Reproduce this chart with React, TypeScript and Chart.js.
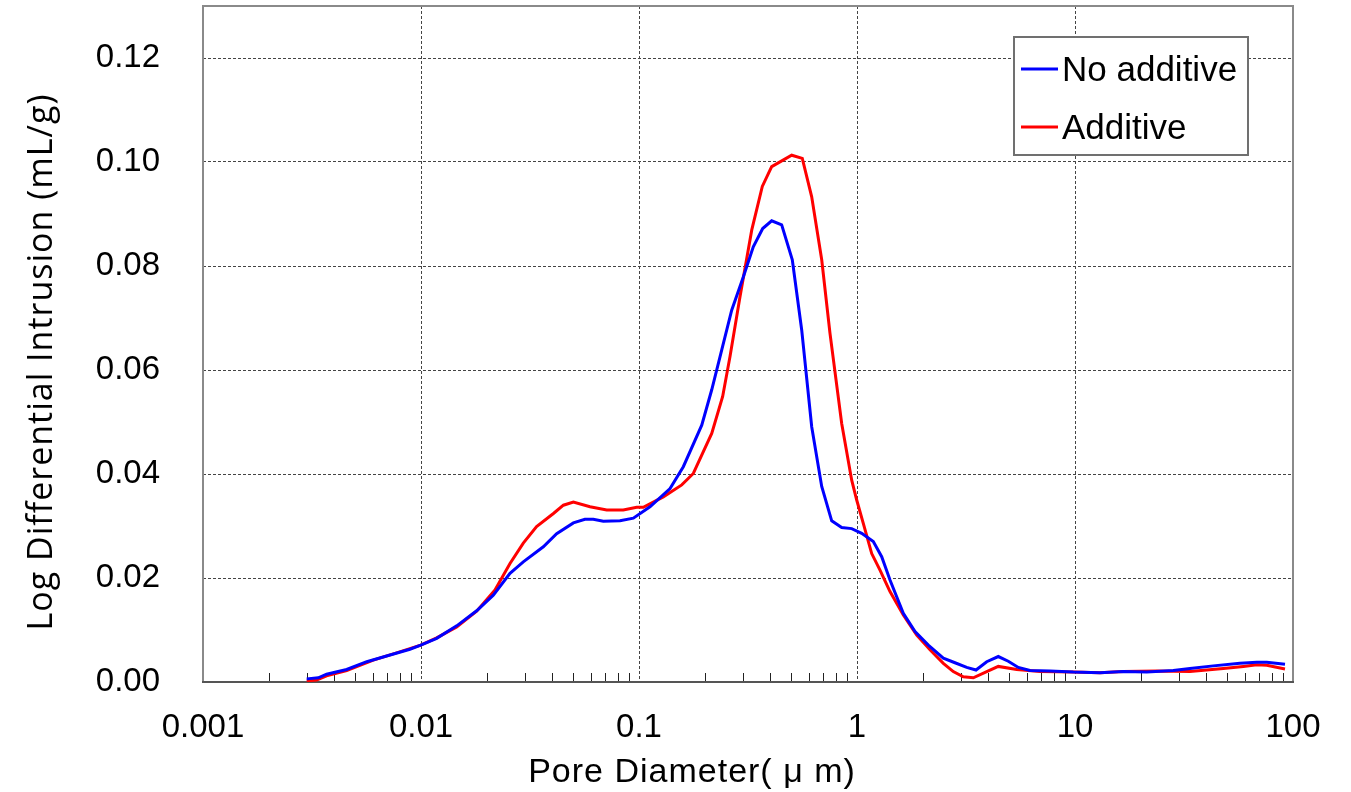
import React, { useEffect, useRef } from "react";
import { Chart, registerables } from "chart.js";

Chart.register(...registerables);

const xTickValues = [0.001, 0.01, 0.1, 1, 10, 100];
const xTickLabels = ["0.001", "0.01", "0.1", "1", "10", "100"];
const yTickValues = [0, 0.02, 0.04, 0.06, 0.08, 0.1, 0.12];

const seriesNames = ["No additive", "Additive"];
const seriesColors = ["#0000ff", "#ff0000"];

const noAdditiveDiam = [
  0.00299, 0.00338, 0.00369, 0.00456, 0.00564, 0.00721, 0.0089, 0.00997, 0.0118, 0.01458,
  0.018, 0.02146, 0.0256, 0.02946, 0.0364, 0.0419, 0.05, 0.0565, 0.0617, 0.0686,
  0.0818, 0.0942, 0.1123, 0.1388, 0.1597, 0.194, 0.2156, 0.2395, 0.2662, 0.3009,
  0.3344, 0.3693, 0.4061, 0.4513, 0.5049, 0.5576, 0.6197, 0.6889, 0.7655, 0.8507,
  0.9456, 1.0509, 1.188, 1.298, 1.417, 1.631, 1.846, 2.124, 2.489, 2.815,
  3.186, 3.515, 3.936, 4.448, 4.943, 5.494, 6.218, 7.68, 9.82, 13.02,
  16.66, 21.33, 28.24, 33.69, 43.1, 57.1, 68.2, 75.8, 91.9,
];
const noAdditiveVal = [
  0.0006, 0.0008, 0.0015, 0.0024, 0.0039, 0.0052, 0.0063, 0.0071, 0.0084, 0.0108,
  0.0137, 0.0167, 0.0209, 0.0231, 0.026, 0.0285, 0.0306, 0.0313, 0.0313, 0.0309,
  0.031, 0.0315, 0.0337, 0.0372, 0.0414, 0.0494, 0.0562, 0.0638, 0.0715, 0.0779,
  0.0837, 0.0872, 0.0887, 0.0879, 0.0812, 0.0677, 0.0491, 0.0376, 0.031, 0.0297,
  0.0295, 0.0286, 0.027, 0.0241, 0.0196, 0.0132, 0.0097, 0.0071, 0.0046, 0.0037,
  0.0028, 0.0023, 0.0039, 0.0049, 0.004, 0.0028, 0.0022, 0.0021, 0.0019, 0.0018,
  0.002, 0.0019, 0.0022, 0.0026, 0.0031, 0.0036, 0.0038, 0.0038, 0.0034,
];

const additiveDiam = [
  0.00299, 0.00332, 0.00369, 0.00456, 0.00604, 0.00773, 0.00997, 0.0118, 0.01458, 0.018,
  0.02185, 0.0256, 0.02946, 0.0339, 0.0405, 0.045, 0.05, 0.0596, 0.0711, 0.0847,
  0.0976, 0.1046, 0.1293, 0.1571, 0.1775, 0.2156, 0.242, 0.2615, 0.2906, 0.3289,
  0.3678, 0.4061, 0.5017, 0.5611, 0.6197, 0.6889, 0.7516, 0.8507, 0.9456, 0.9969,
  1.0687, 1.168, 1.275, 1.417, 1.631, 1.879, 2.162, 2.489, 2.765, 3.073,
  3.417, 3.936, 4.448, 5.403, 6.909, 9.82, 13.02, 16.66, 23.7, 33.69,
  47.9, 59.2, 68.2, 75.8, 91.9,
];
const additiveVal = [
  0.0002, 0.0004, 0.0012, 0.0022, 0.0042, 0.0056, 0.0071, 0.0085, 0.0106, 0.0136,
  0.0177, 0.0228, 0.0267, 0.0299, 0.0324, 0.034, 0.0346, 0.0337, 0.0331, 0.0331,
  0.0336, 0.0336, 0.0356, 0.0379, 0.0401, 0.0478, 0.0549, 0.0626, 0.0741, 0.0869,
  0.0953, 0.0991, 0.1013, 0.1007, 0.0933, 0.0812, 0.0671, 0.0497, 0.0388, 0.035,
  0.0305, 0.0247, 0.0215, 0.0174, 0.0129, 0.009, 0.0062, 0.0036, 0.002, 0.001,
  0.0008, 0.002, 0.003, 0.0024, 0.002, 0.0019, 0.0018, 0.002, 0.0021, 0.002,
  0.0026, 0.003, 0.0033, 0.0032, 0.0025,
];

const xTitle = "Pore Diameter( μ m)";
const yTitle = "Log Differential Intrusion (mL/g)";

const FONT = '"Liberation Sans", "Noto Sans CJK JP", sans-serif';

const decorPlugin = {
  id: "decor",
  beforeDatasetsDraw(chart: any) {
    const { ctx, chartArea, scales } = chart;
    const xs = scales.x;
    ctx.save();
    ctx.strokeStyle = "#222";
    ctx.lineWidth = 1;
    for (let e = -3; e < 2; e++) {
      for (let m = 2; m <= 9; m++) {
        const v = m * Math.pow(10, e);
        const px = Math.round(xs.getPixelForValue(v)) + 0.5;
        ctx.beginPath();
        ctx.moveTo(px, chartArea.bottom);
        ctx.lineTo(px, chartArea.bottom - 9);
        ctx.stroke();
      }
    }
    ctx.strokeStyle = "#8a8a8a";
    ctx.lineWidth = 2;
    ctx.strokeRect(chartArea.left, chartArea.top, chartArea.right - chartArea.left, chartArea.bottom - chartArea.top);
    ctx.strokeStyle = "#555";
    ctx.beginPath();
    ctx.moveTo(chartArea.left - 1, chartArea.bottom);
    ctx.lineTo(chartArea.right + 1, chartArea.bottom);
    ctx.stroke();
    ctx.restore();
  },
  afterDraw(chart: any) {
    const { ctx, chartArea } = chart;
    ctx.save();
    ctx.fillStyle = "#000";
    ctx.textAlign = "center";
    ctx.textBaseline = "middle";
    ctx.font = `34px ${FONT}`;
    (ctx as any).letterSpacing = "1px";
    ctx.fillText(xTitle, 692, 773);
    ctx.font = `34px "Open Sans", ${FONT}`;
    (ctx as any).letterSpacing = "1px";
    ctx.translate(42, 362);
    ctx.rotate(-Math.PI / 2);
    ctx.fillText(yTitle, 0, 0);
    ctx.restore();

    ctx.save();
    (ctx as any).letterSpacing = "0px";
    const bx = chartArea.right - 279;
    const by = chartArea.top + 31;
    const bw = 234;
    const bh = 118;
    ctx.fillStyle = "#fff";
    ctx.fillRect(bx, by, bw, bh);
    ctx.strokeStyle = "#707070";
    ctx.lineWidth = 2;
    ctx.strokeRect(bx, by, bw, bh);
    ctx.font = `35px ${FONT}`;
    ctx.textBaseline = "middle";
    ctx.textAlign = "left";
    chart.data.datasets.forEach((ds: any, i: number) => {
      const cy = by + 32 + i * 58;
      ctx.strokeStyle = ds.borderColor;
      ctx.lineWidth = 3;
      ctx.beginPath();
      ctx.moveTo(bx + 7, cy);
      ctx.lineTo(bx + 44, cy);
      ctx.stroke();
      ctx.fillStyle = "#000";
      ctx.fillText(ds.label, bx + 48, cy + 2);
    });
    ctx.restore();
  },
};

export default function App() {
  const ref = useRef<HTMLCanvasElement | null>(null);
  useEffect(() => {
    if (!ref.current) return;
    const mk = (d: number[], v: number[]) => d.map((x, i) => ({ x, y: v[i] }));
    const chart = new Chart(ref.current, {
      type: "line",
      data: {
        datasets: [
          {
            label: seriesNames[0],
            data: mk(noAdditiveDiam, noAdditiveVal),
            borderColor: seriesColors[0],
            backgroundColor: seriesColors[0],
            borderWidth: 3,
            pointRadius: 0,
            tension: 0,
          },
          {
            label: seriesNames[1],
            data: mk(additiveDiam, additiveVal),
            borderColor: seriesColors[1],
            backgroundColor: seriesColors[1],
            borderWidth: 3,
            pointRadius: 0,
            tension: 0,
          },
        ],
      },
      options: {
        animation: false,
        responsive: true,
        maintainAspectRatio: false,
        layout: { padding: { left: 0, top: 6, right: 58, bottom: 0 } },
        plugins: { legend: { display: false }, tooltip: { enabled: false } },
        scales: {
          x: {
            type: "logarithmic",
            min: 0.001,
            max: 100,
            afterBuildTicks: (s: any) => {
              s.ticks = xTickValues.map((v) => ({ value: v, major: true }));
            },
            afterFit: (s: any) => {
              s.height = 110;
              s.paddingLeft = 0;
              s.paddingRight = 0;
              s.paddingTop = 0;
              s.paddingBottom = 0;
            },
            ticks: {
              autoSkip: false,
              maxRotation: 0,
              padding: 26,
              color: "#000",
              font: { family: FONT, size: 33 },
              callback: (_v: any, i: number) => xTickLabels[i],
            },
            grid: { color: "#444", lineWidth: 1, drawTicks: false },
            border: { display: false, dash: [3, 2] },
          },
          y: {
            type: "linear",
            min: 0,
            max: 0.13,
            afterBuildTicks: (s: any) => {
              s.ticks = yTickValues.map((v) => ({ value: v }));
            },
            afterFit: (s: any) => {
              s.width = 203;
              s.paddingLeft = 0;
              s.paddingRight = 0;
              s.paddingTop = 0;
              s.paddingBottom = 0;
            },
            ticks: {
              padding: 43,
              color: "#000",
              font: { family: FONT, size: 33 },
              callback: (v: any) => Number(v).toFixed(2),
            },
            grid: { color: "#444", lineWidth: 1, drawTicks: false },
            border: { display: false, dash: [3, 2] },
          },
        },
      },
      plugins: [decorPlugin],
    });
    return () => chart.destroy();
  }, []);
  return (
    <div style={{ position: "fixed", left: 0, top: 0, width: 1351, height: 792, background: "#fff" }}>
      <canvas ref={ref} />
    </div>
  );
}
